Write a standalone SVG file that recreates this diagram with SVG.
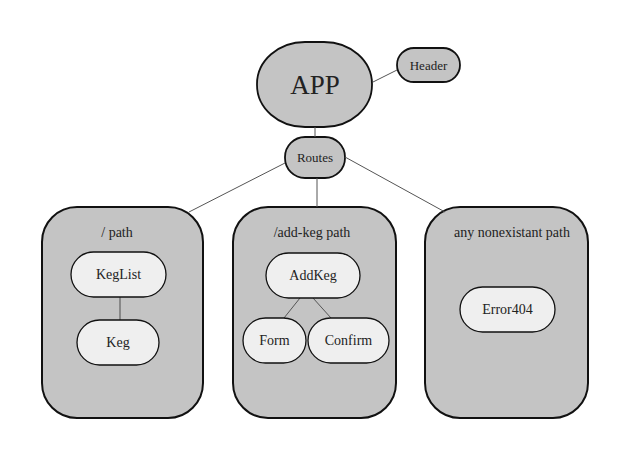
<svg xmlns="http://www.w3.org/2000/svg" width="638" height="474" viewBox="0 0 638 474">
<style>
text{font-family:"Liberation Serif","DejaVu Serif",serif;fill:#222;text-anchor:middle;dominant-baseline:central}
.g{fill:#c4c4c4;stroke:#111;stroke-width:1.8}
.box{fill:#c4c4c4;stroke:#111;stroke-width:2}
.n{fill:#efefef;stroke:#111;stroke-width:1.3}
.t{font-size:14px}
.e{stroke:#555;stroke-width:1;fill:none}
</style>
<rect width="638" height="474" fill="#fff"/>
<g id="app"><rect class="g" x="257" y="42" width="115" height="85" rx="48" ry="42" stroke-width="2"/><text x="315" y="85" style="font-size:27px">APP</text></g>
<g id="header"><rect class="g" x="397" y="48" width="63" height="34" rx="17" stroke-width="1.3"/><text class="t" x="428.5" y="65" style="font-size:13px">Header</text></g>
<g id="routes"><rect class="g" x="285" y="137" width="60" height="41" rx="20" stroke-width="1.3"/><text class="t" x="315" y="157" style="font-size:13px">Routes</text></g>
<g id="path-root"><rect class="box" x="42" y="207" width="161" height="211" rx="35"/><text class="t" x="117" y="232">/ path</text></g>
<g id="path-addkeg"><rect class="box" x="233" y="207" width="163" height="211" rx="35"/><text class="t" x="312" y="232">/add-keg path</text></g>
<g id="path-any"><rect class="box" x="425" y="207" width="163" height="211" rx="35"/><text class="t" x="512" y="232">any nonexistant path</text></g>
<g id="connectors">
<line class="e" x1="315" y1="127" x2="315" y2="137"/>
<line class="e" x1="373" y1="82" x2="397" y2="70"/>
<line class="e" x1="285" y1="163" x2="189" y2="212"/>
<line class="e" x1="317" y1="178" x2="317" y2="207"/>
<line class="e" x1="345" y1="157" x2="445" y2="212"/>
<line x1="120" y1="297" x2="120" y2="320" stroke="#888" stroke-width="2"/>
<line class="e" x1="300" y1="298" x2="284" y2="318"/>
<line class="e" x1="313" y1="298" x2="331" y2="318"/>
</g>
<g id="keglist"><rect class="n" x="71" y="252" width="95" height="45" rx="22.5"/><text class="t" x="118.5" y="274">KegList</text></g>
<g id="keg"><rect class="n" x="77" y="320" width="82" height="45" rx="22.5"/><text class="t" x="118" y="342">Keg</text></g>
<g id="addkeg"><rect class="n" x="266" y="253" width="94" height="45" rx="22.5"/><text class="t" x="313" y="275">AddKeg</text></g>
<g id="form"><rect class="n" x="243" y="318" width="63" height="45" rx="22.5"/><text class="t" x="274.5" y="340">Form</text></g>
<g id="confirm"><rect class="n" x="308" y="318" width="81" height="45" rx="22.5"/><text class="t" x="348.5" y="340">Confirm</text></g>
<g id="error404"><rect class="n" x="460" y="287" width="95" height="45" rx="22.5"/><text class="t" x="507.5" y="309">Error404</text></g>
</svg>
